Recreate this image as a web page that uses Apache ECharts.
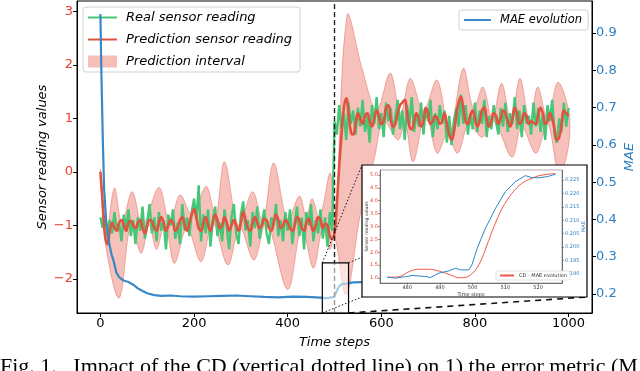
<!DOCTYPE html>
<html>
<head>
<meta charset="utf-8">
<script src="https://cdn.jsdelivr.net/npm/echarts@6/dist/echarts.min.js"></script>
<style>
  html, body { margin: 0; padding: 0; background: #fff; }
  #chart { width: 640px; height: 371px; }
</style>
</head>
<body>
<div id="chart"></div>
<script>
// sampled every STEP time steps, from 0 to 1000
var STEP = 5;
var realReading = [
  -0.85, -1.05, -0.8, -1.2, -0.9, -1.15, -0.75, -1.1, -0.95, -1.3,
  -0.8, -1.05, -0.7, -1.2, -0.9, -1.35, -0.85, -1.1, -0.65, -1.25,
  -0.95, -0.6, -1.15, -0.85, -1.3, -0.75, -1.1, -0.9, -1.45, -0.8,
  -1.0, -0.7, -1.25, -0.95, -1.35, -0.6, -1.1, -0.85, -1.2, -0.75,
  -0.5, -0.9, -0.25, -1.3, -0.8, -1.15, -0.7, -1.4, -0.9, -0.65,
  -1.2, -0.95, -1.3, -0.7, -1.05, -1.45, -0.85, -0.6, -1.15, -1.35,
  -0.8, -0.55, -1.1, -0.9, -1.4, -0.75, -1.05, -0.65, -1.25, -0.95,
  -0.7, -1.15, -1.35, -0.85, -1.0, -0.6, -1.2, -0.9, -1.3, -0.75,
  -1.1, -0.7, -1.35, -0.95, -0.65, -1.2, -0.85, -1.45, -0.75, -1.0,
  -0.6, -1.3, -0.9, -1.15, -0.7, -1.25, -0.85, -1.4, -0.75, -1.1,
  0.95, 0.7, 1.25, 0.8, 1.1, 0.6, 1.3, 0.9, 1.15, 0.7,
  1.2, 0.85, 1.35, 0.75, 1.05, 0.55, 1.25, 0.9, 1.4, 0.8,
  1.1, 0.65, 1.3, 0.95, 1.2, 0.7, 1.05, 1.35, 0.8, 1.15,
  0.6, 1.25, 0.9, 1.4, 0.75, 1.1, 0.85, 1.3, 0.7, 1.2,
  0.95, 1.35, 0.65, 1.1, 0.8, 1.25, 0.9, 1.15, 0.55, 1.05,
  0.5, 0.95, 1.2, 0.85, 1.45, 0.9, 1.25, 0.7, 1.1, 0.8,
  1.3, 0.75, 1.15, 0.9, 1.35, 0.65, 1.05, 0.8, 1.25, 0.95,
  0.7, 1.2, 0.85, 1.3, 0.75, 1.1, 0.9, 1.4, 0.8, 1.15,
  0.65, 1.25, 0.9, 1.05, 0.7, 1.3, 0.85, 1.2, 0.75, 1.1,
  0.6, 1.25, 0.95, 1.35, 0.7, 0.55, 1.0, 0.75, 1.3, 0.85,
  1.2
];
var predReading = [
  0.0, -0.6, -1.2, -1.35, -1.1, -0.95, -1.05, -1.1, -0.95, -0.9,
  -1.0, -1.1, -0.95, -0.92, -1.0, -1.05, -0.95, -0.9, -1.05, -1.15,
  -1.0, -0.9, -0.92, -1.05, -1.1, -0.95, -0.85, -0.95, -1.1, -1.0,
  -0.9, -0.95, -1.1, -1.05, -0.9, -0.85, -1.0, -1.1, -0.95, -0.8,
  -0.7, -0.85, -1.05, -1.1, -0.95, -0.85, -1.0, -1.1, -0.95, -0.8,
  -0.9, -1.05, -1.0, -0.85, -0.95, -1.1, -1.0, -0.9, -1.0, -1.1,
  -0.95, -0.75, -0.9, -1.05, -1.1, -0.95, -0.85, -0.95, -1.05, -1.0,
  -0.88, -0.9, -1.05, -1.1, -0.95, -0.8, -0.9, -1.05, -1.0, -0.9,
  -0.95, -1.05, -1.1, -1.0, -0.85, -0.9, -1.05, -1.1, -0.95, -0.88,
  -1.0, -1.1, -1.0, -0.85, -0.9, -1.05, -0.97, -1.0, -1.2, -1.25,
  -1.15, -0.6, 0.1, 0.7, 1.2, 1.38, 1.1, 0.75, 0.7, 0.9,
  1.1, 1.0, 0.9, 1.05, 1.1, 0.95, 0.85, 1.0, 1.15, 1.05,
  0.9, 0.95, 1.2, 1.25, 1.0, 0.85, 0.9, 1.1, 1.25, 1.3,
  1.35, 1.1, 0.85, 0.8, 0.95, 1.1, 1.0, 0.85, 0.95, 1.2,
  1.1, 0.9, 0.95, 1.05, 1.0, 0.9, 0.95, 1.1, 0.9, 0.7,
  0.6, 0.75, 1.05, 1.3, 1.4, 1.2, 0.95, 0.9, 1.05, 1.15,
  1.0, 0.85, 0.95, 1.15, 1.2, 1.0, 0.85, 0.95, 1.1, 1.05,
  0.9, 1.0, 1.15, 1.1, 0.95, 0.85, 1.0, 1.2, 1.1, 0.9,
  0.95, 1.1, 1.05, 0.9, 0.95, 0.92, 0.9, 1.05, 1.2, 1.1,
  0.9, 0.95, 1.1, 1.0, 0.8, 0.6, 0.65, 0.9, 1.15, 1.1,
  1.05
];
var timeSteps = predReading.map(function (v, i) { return i * STEP; });

// prediction interval, lobe peaks and pinch points
var bandUpperSteps = [0, 12, 30, 46, 68, 90, 125, 148, 170, 196, 226, 246, 265, 295, 325, 347, 370, 400, 425, 440, 452, 468, 491, 501,
  527, 560, 590, 619, 641, 662, 690, 719, 746, 775, 797, 817, 837, 857, 877, 896, 917, 934, 955, 977, 1000];
var bandUpper = [0.05, -1.2, -0.30, -0.95, -0.37, -1.0, -0.29, -0.95, -0.43, -0.8, -0.27, -0.82, 0.19, -1.0, -0.37, -0.92, 0.17, -0.9, -0.45, -0.85, -0.5, -0.85, -0.02, -1.1,
  2.93, 1.9, 1.15, 1.85, 1.1, 1.75, 1.15, 1.72, 0.75, 1.94, 1.2, 1.59, 1.0, 1.66, 0.95, 1.75, 0.95, 1.59, 1.0, 1.68, 1.15];
var bandLowerSteps = [0, 10, 40, 65, 87, 104, 120, 138, 158, 185, 215, 240, 272, 298, 328, 355, 400, 430, 455, 475, 490, 500,
  525, 555, 585, 605, 636, 650, 668, 695, 719, 741, 763, 787, 815, 840, 879, 900, 930, 955, 980, 1000];
var bandLower = [-0.05, -1.3, -2.36, -1.0, -1.52, -1.0, -1.45, -0.95, -1.71, -1.05, -1.68, -0.95, -1.74, -1.05, -1.65, -0.95, -2.2, -1.05, -1.8, -1.05, -1.45, -1.2,
  -2.3, -0.8, 0.25, 0.95, 0.6, 0.95, 0.19, 1.1, 0.35, 0.7, 0.35, 0.9, 0.65, 0.95, 0.28, 0.85, 0.35, 0.9, -0.05, 0.5];

var maeSteps = [0, 2, 5, 8, 12, 18, 24, 28, 34, 40, 48, 55, 60, 70, 80, 90, 100, 115, 130, 150,
  170, 200, 230, 260, 290, 320, 350, 380, 410, 440, 470, 480, 487, 492, 496, 499, 502, 505, 508, 511,
  514, 517, 520, 525, 530, 540, 560, 600, 700, 800, 900, 1000];
var maeValues = [0.951, 0.80, 0.62, 0.48, 0.40, 0.34, 0.305, 0.29, 0.258, 0.245, 0.237, 0.234, 0.232, 0.225, 0.215, 0.208, 0.202, 0.197, 0.195, 0.196,
  0.194, 0.193, 0.194, 0.195, 0.196, 0.194, 0.192, 0.191, 0.193, 0.192, 0.19, 0.189, 0.189, 0.191, 0.192, 0.1915, 0.200, 0.209, 0.216, 0.222,
  0.225, 0.227, 0.226, 0.227, 0.229, 0.231, 0.232, 0.233, 0.235, 0.236, 0.236, 0.237];

var cdStep = 500;

// zoomed inset
var insetRedSteps = [473.9, 477.5, 480.5, 483, 486.6, 489.7, 493.2, 495.8, 498.3, 500.4, 502.4, 504.4, 506.5, 509, 512, 515, 519.2, 522.7, 525.3];
var insetRed = [1.03, 1.05, 1.24, 1.34, 1.34, 1.27, 1.12, 1.01, 1.04, 1.24, 1.63, 2.28, 2.99, 3.70, 4.28, 4.67, 4.93, 5.02, 5.06];
var insetBlueSteps = [473.9, 476.4, 479.5, 481.5, 486, 487, 489.7, 492.7, 494.7, 496.3, 498.8, 499.8, 501.4, 503.9, 507, 510, 513, 516.1, 518.2, 520.2, 522.7, 525.3];
var insetBlue = [0.1888, 0.1884, 0.189, 0.1894, 0.189, 0.1886, 0.1903, 0.1911, 0.1921, 0.1915, 0.1915, 0.1934, 0.1996, 0.207, 0.2145, 0.2207, 0.2244, 0.2267, 0.2259, 0.2259, 0.2263, 0.2272];

var xTicks = [0, 200, 400, 600, 800, 1000];
var leftTicks = [-2, -1, 0, 1, 2, 3];
var rightTicks = [0.2, 0.3, 0.4, 0.5, 0.6, 0.7, 0.8, 0.9];
var insetXTicks = [480, 490, 500, 510, 520];
var insetLeftTicks = [1.0, 1.5, 2.0, 2.5, 3.0, 3.5, 4.0, 4.5, 5.0];
var insetRightTicks = [0.190, 0.195, 0.200, 0.205, 0.210, 0.215, 0.220, 0.225];

var FONT = 'DejaVu Sans';
var RED = '#e0533f', GREEN = '#46c778', BLUE = '#3a87c7';
var RED_TXT = '#e8412f', BLUE_TXT = '#2d7fc1';

// zoom box in main axes units
var boxX0 = 474, boxX1 = 530, boxTop = -1.70, boxBottom = -2.64;
var insetRect = { x: 362, y: 165, width: 225, height: 132 };

function minus(v) { return v < 0 ? '\u2212' + (-v) : String(v); }

function pairs(xs, ys) { return xs.map(function (x, i) { return [x, ys[i]]; }); }

// hide the legend marker dot, keep the line
var noDot = { opacity: 0 };

var chart = echarts.init(document.getElementById('chart'));

var option = {
  animation: false,
  backgroundColor: '#fff',
  textStyle: { fontFamily: FONT },
  grid: [
    { left: 77, top: 1, width: 515, height: 312, show: true, borderColor: '#000', borderWidth: 1,
      containLabel: false, outerBoundsMode: 'none' },
    { left: 380, top: 170, width: 182, height: 113, show: true, borderColor: '#999', borderWidth: 0.8,
      backgroundColor: '#fff', z: 55, containLabel: false, outerBoundsMode: 'none' }
  ],
  legend: [
    {
      left: 83, top: 7, orient: 'vertical', itemWidth: 29, itemHeight: 12, itemGap: 9,
      padding: [4, 8, 4, 4], borderColor: '#d0d0d0', borderWidth: 1, borderRadius: 3,
      backgroundColor: 'rgba(255,255,255,0.8)', z: 1,
      textStyle: { fontFamily: FONT, fontSize: 13, fontStyle: 'italic', color: '#000', padding: [0, 0, 0, 4] },
      data: [
        { name: 'Real sensor reading', itemStyle: noDot },
        { name: 'Prediction sensor reading', itemStyle: noDot },
        { name: 'Prediction interval', icon: 'rect', itemStyle: { color: 'rgba(232,92,75,0.4)' } }
      ]
    },
    {
      left: 459, top: 10, itemWidth: 27, itemHeight: 12,
      padding: [4, 6, 4, 4], borderColor: '#d0d0d0', borderWidth: 1, borderRadius: 3,
      backgroundColor: 'rgba(255,255,255,0.8)',
      textStyle: { fontFamily: FONT, fontSize: 11.5, fontStyle: 'italic', color: '#000', padding: [0, 0, 0, 4] },
      data: [{ name: 'MAE evolution', itemStyle: noDot }]
    },
    {
      left: 496, top: 271, itemWidth: 14, itemHeight: 5,
      padding: [2, 3, 2, 3], borderColor: '#ccc', borderWidth: 0.6, borderRadius: 1,
      backgroundColor: '#fff', z: 65,
      textStyle: { fontFamily: FONT, fontSize: 5, color: '#333' },
      data: [{ name: 'CD - MAE evolution', itemStyle: noDot }]
    }
  ],
  xAxis: [
    {
      type: 'value', gridIndex: 0, min: -50, max: 1050,
      axisLine: { onZero: false, lineStyle: { color: '#000' } },
      axisTick: { length: 4, customValues: xTicks, lineStyle: { color: '#000' } },
      axisLabel: { customValues: xTicks, color: '#000', fontSize: 13, margin: 4, fontFamily: FONT,
        formatter: function (v) { return String(v); } },
      splitLine: { show: false },
      name: 'Time steps', nameLocation: 'middle', nameGap: 23, nameMoveOverlap: false,
      nameTextStyle: { fontFamily: FONT, fontSize: 13, fontStyle: 'italic', color: '#000' }
    },
    {
      type: 'value', gridIndex: 1, min: 471.7, max: 527.3, z: 60,
      axisLine: { onZero: false, lineStyle: { color: '#555', width: 0.8 } },
      axisTick: { length: 2, customValues: insetXTicks, lineStyle: { color: '#555', width: 0.6 } },
      axisLabel: { customValues: insetXTicks, color: '#333', fontSize: 5, margin: 2,
        formatter: function (v) { return String(v); } },
      splitLine: { show: false },
      name: 'Time steps', nameLocation: 'middle', nameGap: 9, nameMoveOverlap: false,
      nameTextStyle: { fontSize: 5, color: '#333' }
    }
  ],
  yAxis: [
    {
      type: 'value', gridIndex: 0, min: -2.64, max: 3.2, position: 'left',
      axisLine: { show: true, onZero: false, lineStyle: { color: '#000' } },
      axisTick: { show: true, length: 4, customValues: leftTicks, lineStyle: { color: '#000' } },
      axisLabel: { customValues: leftTicks, color: RED_TXT, fontSize: 13, margin: 4, fontFamily: FONT, formatter: minus },
      splitLine: { show: false },
      name: 'Sensor reading values', nameLocation: 'middle', nameGap: 28, nameMoveOverlap: false,
      nameTextStyle: { fontFamily: FONT, fontSize: 13, fontStyle: 'italic', color: '#000' }
    },
    {
      type: 'value', gridIndex: 0, min: 0.149, max: 0.986, position: 'right',
      axisLine: { show: true, onZero: false, lineStyle: { color: '#000' } },
      axisTick: { show: true, length: 4, customValues: rightTicks, lineStyle: { color: '#000' } },
      axisLabel: { customValues: rightTicks, color: BLUE_TXT, fontSize: 13, margin: 4, fontFamily: FONT,
        formatter: function (v) { return v.toFixed(1); } },
      splitLine: { show: false },
      name: 'MAE', nameLocation: 'middle', nameGap: 31, nameMoveOverlap: false,
      nameTextStyle: { fontFamily: FONT, fontSize: 13, fontStyle: 'italic', color: BLUE_TXT }
    },
    {
      type: 'value', gridIndex: 1, min: 0.806, max: 5.19, position: 'left', z: 60,
      axisLine: { show: true, onZero: false, lineStyle: { color: '#555', width: 0.8 } },
      axisTick: { show: true, length: 2, customValues: insetLeftTicks, lineStyle: { color: '#555', width: 0.6 } },
      axisLabel: { customValues: insetLeftTicks, color: RED_TXT, fontSize: 5, margin: 2,
        formatter: function (v) { return v.toFixed(1); } },
      splitLine: { show: false },
      name: 'Sensor reading values', nameLocation: 'middle', nameGap: 11, nameMoveOverlap: false,
      nameTextStyle: { fontSize: 4.5, color: '#333' }
    },
    {
      type: 'value', gridIndex: 1, min: 0.1866, max: 0.2288, position: 'right', z: 60,
      axisLine: { show: true, onZero: false, lineStyle: { color: '#555', width: 0.8 } },
      axisTick: { show: true, length: 2, customValues: insetRightTicks, lineStyle: { color: '#555', width: 0.6 } },
      axisLabel: { customValues: insetRightTicks, color: BLUE_TXT, fontSize: 5, margin: 3,
        formatter: function (v) { return v.toFixed(3); } },
      splitLine: { show: false },
      name: 'MAE', nameLocation: 'middle', nameGap: 19, nameMoveOverlap: false,
      nameTextStyle: { fontSize: 5, color: BLUE_TXT }
    }
  ],
  series: [
    {
      type: 'custom', name: 'Prediction interval', xAxisIndex: 0, yAxisIndex: 0, z: 1, silent: true,
      itemStyle: { color: 'rgba(232,92,75,0.4)' },
      data: [[0, 0]],
      renderItem: function (params, api) {
        var pts = [];
        bandUpperSteps.forEach(function (s, i) { pts.push(api.coord([s, bandUpper[i]])); });
        for (var i = bandLowerSteps.length - 1; i >= 0; i--) {
          pts.push(api.coord([bandLowerSteps[i], bandLower[i]]));
        }
        return {
          type: 'polygon',
          shape: { points: pts, smooth: 0.35 },
          style: { fill: 'rgba(232,92,75,0.38)', stroke: 'rgba(225,90,75,0.45)', lineWidth: 1 }
        };
      }
    },
    {
      type: 'line', name: 'Real sensor reading', xAxisIndex: 0, yAxisIndex: 0, z: 2,
      symbol: 'none', data: pairs(timeSteps, realReading),
      lineStyle: { color: GREEN, width: 2.4 }, itemStyle: { color: GREEN }
    },
    {
      type: 'line', name: 'Prediction sensor reading', xAxisIndex: 0, yAxisIndex: 0, z: 3,
      symbol: 'none', smooth: 0.5, data: pairs(timeSteps, predReading),
      lineStyle: { color: RED, width: 2.6 }, itemStyle: { color: RED }
    },
    {
      type: 'line', name: 'MAE evolution', xAxisIndex: 0, yAxisIndex: 1, z: 4,
      symbol: 'none', data: pairs(maeSteps, maeValues),
      lineStyle: { color: BLUE, width: 2.2 }, itemStyle: { color: BLUE },
      markLine: {
        silent: true, symbol: 'none', label: { show: false },
        lineStyle: { color: '#222', type: [5, 3], width: 1.4 },
        data: [{ xAxis: cdStep }]
      }
    },
    {
      type: 'custom', name: 'zoom box', xAxisIndex: 0, yAxisIndex: 0, z: 30, silent: true,
      data: [[boxX0, boxTop]],
      renderItem: function (params, api) {
        var a = api.coord([boxX0, boxTop]);
        var b = api.coord([boxX1, boxBottom]);
        return {
          type: 'rect',
          shape: { x: a[0], y: a[1], width: b[0] - a[0], height: b[1] - a[1] },
          style: { fill: 'rgba(255,255,255,0.55)', stroke: '#000', lineWidth: 1.2 }
        };
      }
    },
    {
      type: 'line', name: 'CD - MAE evolution', xAxisIndex: 1, yAxisIndex: 2, z: 62,
      symbol: 'none', smooth: 0.3, data: pairs(insetRedSteps, insetRed),
      lineStyle: { color: '#f0584a', width: 1 }, itemStyle: { color: '#f0584a' }
    },
    {
      type: 'line', name: 'inset MAE', xAxisIndex: 1, yAxisIndex: 3, z: 62,
      symbol: 'none', data: pairs(insetBlueSteps, insetBlue),
      lineStyle: { color: '#2f86c8', width: 1 }, itemStyle: { color: '#2f86c8' }
    }
  ],
  graphic: [
    {
      id: 'insetFrame', type: 'rect', z: 50,
      shape: insetRect,
      style: { fill: '#fff', stroke: '#000', lineWidth: 1.2 }
    },
    {
      id: 'caption', type: 'text', left: 0, top: 356, z: 10,
      style: {
        text: 'Fig. 1.   Impact of the CD (vertical dotted line) on 1) the error metric (MAE)',
        font: '22px "Liberation Serif"', fill: '#000'
      }
    }
  ]
};

chart.setOption(option);

// connector lines from the zoom box corners to the inset corners
var c = function (x, y) { return chart.convertToPixel({ xAxisIndex: 0, yAxisIndex: 0 }, [x, y]); };
var tl = c(boxX0, boxTop), tr = c(boxX1, boxTop), bl = c(boxX0, boxBottom), br = c(boxX1, boxBottom);
var r = insetRect;
function connector(id, p, q, dash, w) {
  return {
    id: id, type: 'line', z: 40, silent: true,
    shape: { x1: p[0], y1: p[1], x2: q[0], y2: q[1] },
    style: { stroke: '#111', lineWidth: w, lineDash: dash }
  };
}
chart.setOption({
  graphic: [
    connector('cTL', tl, [r.x, r.y], [1.5, 2], 1),
    connector('cTR', tr, [r.x + r.width, r.y], [1.5, 2], 1),
    connector('cBL', bl, [r.x, r.y + r.height], [1.5, 2], 1),
    connector('cBR', br, [r.x + r.width, r.y + r.height], [6, 5], 1.6)
  ]
});
</script>
</body>
</html>
